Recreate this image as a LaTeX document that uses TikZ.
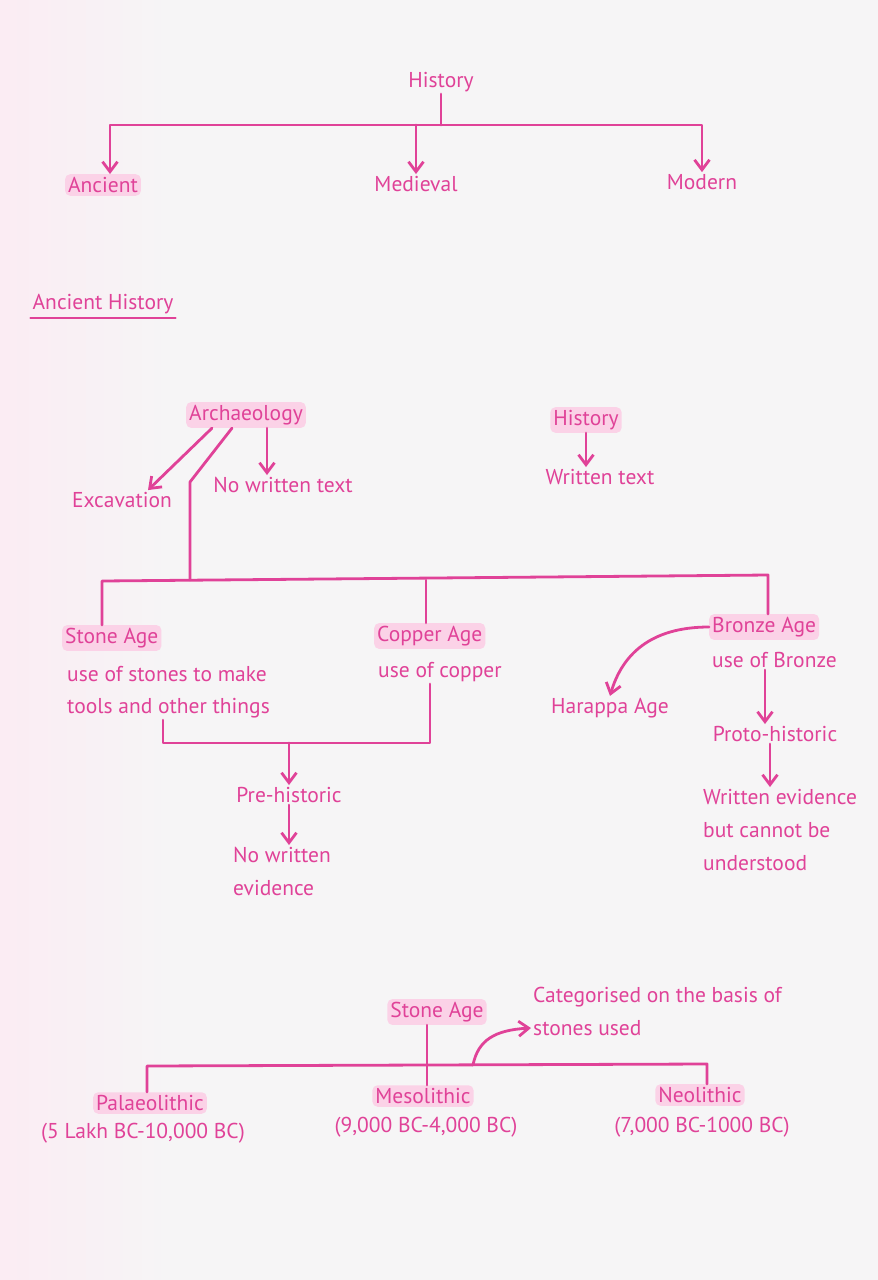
\documentclass[tikz,border=0pt]{standalone}
\usepackage{fontspec}
\setmainfont{PT Sans}
\usepackage{xcolor}
\usetikzlibrary{arrows.meta, positioning}
\definecolor{ink}{RGB}{224,66,152}
\definecolor{marker}{RGB}{251,210,231}
\definecolor{paper}{RGB}{246,245,246}
\definecolor{paperpink}{RGB}{251,236,243}
\tikzstyle{txt}   = [text=ink, font=\fontsize{21.5}{26}\selectfont, inner sep=2pt]
\tikzstyle{hl}    = [txt, fill=marker, rounded corners=5pt, inner sep=3pt]
\tikzstyle{link}  = [draw=ink, line width=2.8pt, line cap=round, line join=round]
\tikzstyle{arrow} = [link, -{Straight Barb[length=10pt,width=15pt]}]
\begin{document}
\begin{tikzpicture}[x=1pt, y=-1pt]
  \useasboundingbox (0,0) rectangle (878,1280);
  \fill[paper] (0,0) rectangle (878,1280);
  \shade[left color=paperpink, right color=paper] (0,0) rectangle (170,1280);

  % History tree
  \node[txt] (hist) at (441,82)  {History};
  \node[hl]  (anc)  at (103,185) {Ancient};
  \node[txt] (med)  at (416,184) {Medieval};
  \node[txt] (mod)  at (702,182) {Modern};
  \coordinate (topbar) at (441,125);
  \draw[link]  (hist) -- (topbar);
  \draw[arrow] (topbar) -| ([xshift=7]anc.north);
  \draw[arrow] (topbar) -| (mod.north);
  \draw[arrow] (med.north |- topbar) -- (med.north);

  \node[txt] (ah) at (103,304) {Ancient History};
  \draw[link, line width=2.4pt] ([yshift=-2]ah.south west) -- ([yshift=-2]ah.south east);

  % Archaeology / History
  \node[hl]  (arch) at (246,415) {Archaeology};
  \node[txt] (exc)  at (122,500) {Excavation};
  \node[txt] (nwt)  at (283,485) {No written text};
  \draw[arrow] ([xshift=-34]arch.south) -- ([xshift=26]exc.north);
  \draw[arrow] ([xshift=21]arch.south) -- ([xshift=-16]nwt.north);
  \coordinate (kneeA)  at (190,482);
  \coordinate (midbar) at (190,580);
  \draw[link] ([xshift=-14]arch.south) -- (kneeA) -- (midbar);

  \node[hl]  (hist2) at (586,420) {History};
  \node[txt] (wt)    at (600,477) {Written text};
  \draw[arrow] (hist2.south) -- (hist2.south |- wt.north);

  % Ages
  \node[hl,  anchor=west] (stone)   at (62,638)  {Stone Age};
  \node[txt, anchor=west] (stone1)  at (65,674)  {use of stones to make};
  \node[txt, anchor=west] (stone2)  at (65,708)  {tools and other things};
  \node[hl,  anchor=west] (copper)  at (374,636) {Copper Age};
  \node[txt, anchor=west] (copper1) at (376,672) {use of copper};
  \node[hl,  anchor=west] (bronze)  at (709,627) {Bronze Age};
  \node[txt, anchor=west] (bronze1) at (710,660) {use of Bronze};
  \node[txt] (harappa) at (610,708) {Harappa Age};
  \node[txt] (proto)   at (775,734) {Proto-historic};
  \node[txt, anchor=west] (wev1) at (701,797) {Written evidence};
  \node[txt, anchor=west] (wev2) at (701,830) {but cannot be};
  \node[txt, anchor=west] (wev3) at (701,863) {understood};

  \coordinate (barL) at (102,581);
  \coordinate (barC) at (426,580);
  \coordinate (barR) at (768,575);
  \draw[link] (barL |- stone.north) -- (barL) -- (barR) -- (barR |- bronze.north);
  \draw[link] (barC) -- (barC |- copper.north);

  \draw[arrow] (bronze.west) .. controls (650,627) and (622,655) .. (harappa.north);
  \draw[arrow] ([xshift=-10]proto.north |- bronze1.south) -- ([xshift=-10]proto.north);
  \draw[arrow] ([xshift=-5]proto.south) -- ([xshift=-5]proto.south |- wev1.north);

  % Pre-historic
  \coordinate (preL) at (163,743);
  \coordinate (preR) at (430,743);
  \draw[link] (preL |- stone2.south) -- (preL) -- (preR) -- (preR |- copper1.south);
  \node[txt] (pre) at (289,795) {Pre-historic};
  \node[txt, anchor=west] (nwe1) at (231,855) {No written};
  \node[txt, anchor=west] (nwe2) at (231,888) {evidence};
  \draw[arrow] (pre.north |- preL) -- (pre.north);
  \draw[arrow] (pre.south) -- (pre.south |- nwe1.north);

  % Stone Age periods
  \node[hl]  (stone3) at (437,1012) {Stone Age};
  \node[txt, anchor=west] (cat1) at (531,997)  {Categorised on the basis of};
  \node[txt, anchor=west] (cat2) at (531,1028) {stones used};
  \node[hl]  (palaeo)  at (150,1103) {Palaeolithic};
  \node[txt] (palaeo1) at (143,1133) {(5 Lakh BC-10,000 BC)};
  \node[hl]  (meso)    at (423,1096) {Mesolithic};
  \node[txt] (meso1)   at (426,1127) {(9,000 BC-4,000 BC)};
  \node[hl]  (neo)     at (700,1095) {Neolithic};
  \node[txt] (neo1)    at (702,1127) {(7,000 BC-1000 BC)};

  \coordinate (lowL) at (147,1066);
  \coordinate (lowC) at (427,1065);
  \coordinate (lowR) at (707,1064);
  \coordinate (catfoot) at (473,1065);
  \draw[link] (lowL |- palaeo.north) -- (lowL) -- (lowR) -- (lowR |- neo.north);
  \draw[link] (lowC |- stone3.south) -- (lowC |- meso.north);
  \draw[arrow] (catfoot) .. controls (478,1040) and (495,1030) .. (cat2.west);
\end{tikzpicture}
\end{document}
